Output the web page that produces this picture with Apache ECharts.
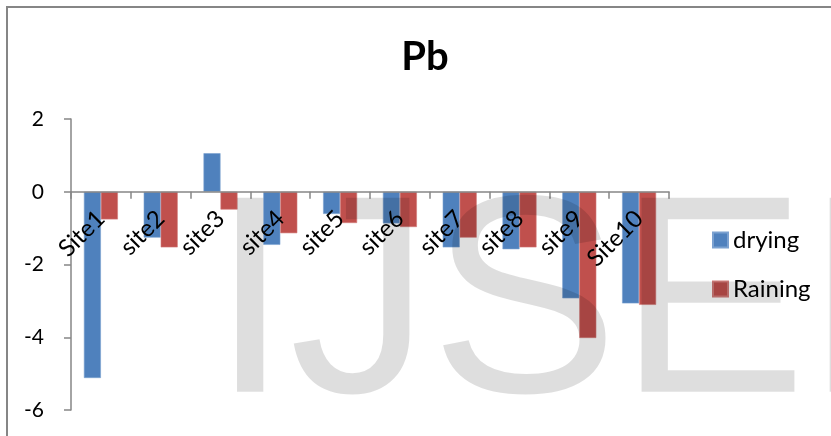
<!DOCTYPE html>
<html>
<head>
<meta charset="utf-8">
<script src="https://cdn.jsdelivr.net/npm/echarts@6/dist/echarts.min.js"></script>
<style>
  html, body { margin: 0; padding: 0; background: #fff; }
  #chart { width: 831px; height: 436px; }
</style>
</head>
<body>
<div id="chart"></div>
<script>
// Pb change per site, dry vs. rainy season
const sites = ['Site1', 'site2', 'site3', 'site4', 'site5', 'site6', 'site7', 'site8', 'site9', 'Site10'];
const drying = [-5.12, -1.26, 1.06, -1.46, -0.61, -0.87, -1.53, -1.58, -2.93, -3.07];
const raining = [-0.76, -1.53, -0.49, -1.14, -0.86, -0.97, -1.26, -1.53, -4.02, -3.11];
const seriesNames = ['drying', 'Raining'];
const yTicks = { min: -6, max: 2, step: 2 };

const FONT = 'Lato, "Open Sans", sans-serif';
const AXIS_GREY = '#868686';

// plot frame (px)
const PLOT = { left: 71, right: 162, top: 119, bottom: 26 };
const plotH = 436 - PLOT.top - PLOT.bottom;
// pixel row of value 0, so the category axis can sit on the zero line
const zeroY = PLOT.top + plotH * (yTicks.max - 0) / (yTicks.max - yTicks.min);

const chart = echarts.init(document.getElementById('chart'), null, { renderer: 'canvas' });

chart.setOption({
  backgroundColor: '#ffffff',
  animation: false,
  title: {
    text: 'Pb',
    left: 420,
    top: 32,
    textAlign: 'center',
    textStyle: { fontFamily: FONT, fontWeight: 'bold', fontSize: 40, color: '#000' }
  },
  legend: {
    orient: 'vertical',
    left: 707,
    top: 223,
    itemWidth: 15,
    itemHeight: 15,
    itemGap: 25,
    icon: 'rect',
    data: seriesNames,
    textStyle: { fontFamily: FONT, fontSize: 24, color: '#000' }
  },
  grid: [
    { left: PLOT.left, right: PLOT.right, top: PLOT.top, bottom: PLOT.bottom, containLabel: false, outerBoundsMode: 'none' },
    // upper band ending at the zero line; it carries the visible category axis
    { left: PLOT.left, right: PLOT.right, top: PLOT.top, bottom: 436 - zeroY, containLabel: false, outerBoundsMode: 'none' }
  ],
  xAxis: [
    {
      type: 'category',
      gridIndex: 0,
      data: sites,
      show: false
    },
    {
      type: 'category',
      gridIndex: 1,
      data: sites,
      z: 10,
      axisLine: { onZero: false, lineStyle: { color: AXIS_GREY, width: 1.5 } },
      axisTick: { show: true, length: 7, lineStyle: { color: AXIS_GREY, width: 1.5 } },
      axisLabel: {
        interval: 0,
        rotate: 45,
        margin: 23,
        fontFamily: FONT,
        fontSize: 24,
        color: '#000'
      },
      splitLine: { show: false }
    }
  ],
  yAxis: [
    {
      type: 'value',
      gridIndex: 0,
      min: yTicks.min,
      max: yTicks.max,
      interval: yTicks.step,
      axisLine: { show: true, lineStyle: { color: AXIS_GREY, width: 1.5 } },
      axisTick: { show: true, length: 7, lineStyle: { color: AXIS_GREY, width: 1.5 } },
      axisLabel: { margin: 27, fontFamily: FONT, fontSize: 21, color: '#000' },
      splitLine: { show: false }
    },
    {
      type: 'value',
      gridIndex: 1,
      min: 0,
      max: yTicks.max,
      show: false
    }
  ],
  series: [
    {
      name: seriesNames[0],
      type: 'bar',
      xAxisIndex: 0,
      yAxisIndex: 0,
      data: drying,
      barWidth: 17,
      barGap: '0%',
      itemStyle: { color: '#4F81BD', borderColor: '#7BA1D0', borderWidth: 0.6 }
    },
    {
      name: seriesNames[1],
      type: 'bar',
      xAxisIndex: 0,
      yAxisIndex: 0,
      data: raining,
      barWidth: 17,
      barGap: '0%',
      itemStyle: { color: '#C0504D', borderColor: '#D27B79', borderWidth: 0.6 }
    }
  ],
  graphic: [
    {
      type: 'rect',
      z: 0,
      silent: true,
      shape: { x: 7, y: 7, width: 900, height: 500 },
      style: { fill: 'none', stroke: AXIS_GREY, lineWidth: 2 }
    },
    {
      type: 'text',
      z: 100,
      silent: true,
      x: 211,
      y: 314,
      style: {
        text: 'IJSER',
        fontFamily: '"Liberation Sans", Arial, sans-serif',
        fontSize: 282,
        fill: 'rgba(0,0,0,0.13)',
        verticalAlign: 'middle',
        align: 'left'
      }
    }
  ]
});
</script>
</body>
</html>
